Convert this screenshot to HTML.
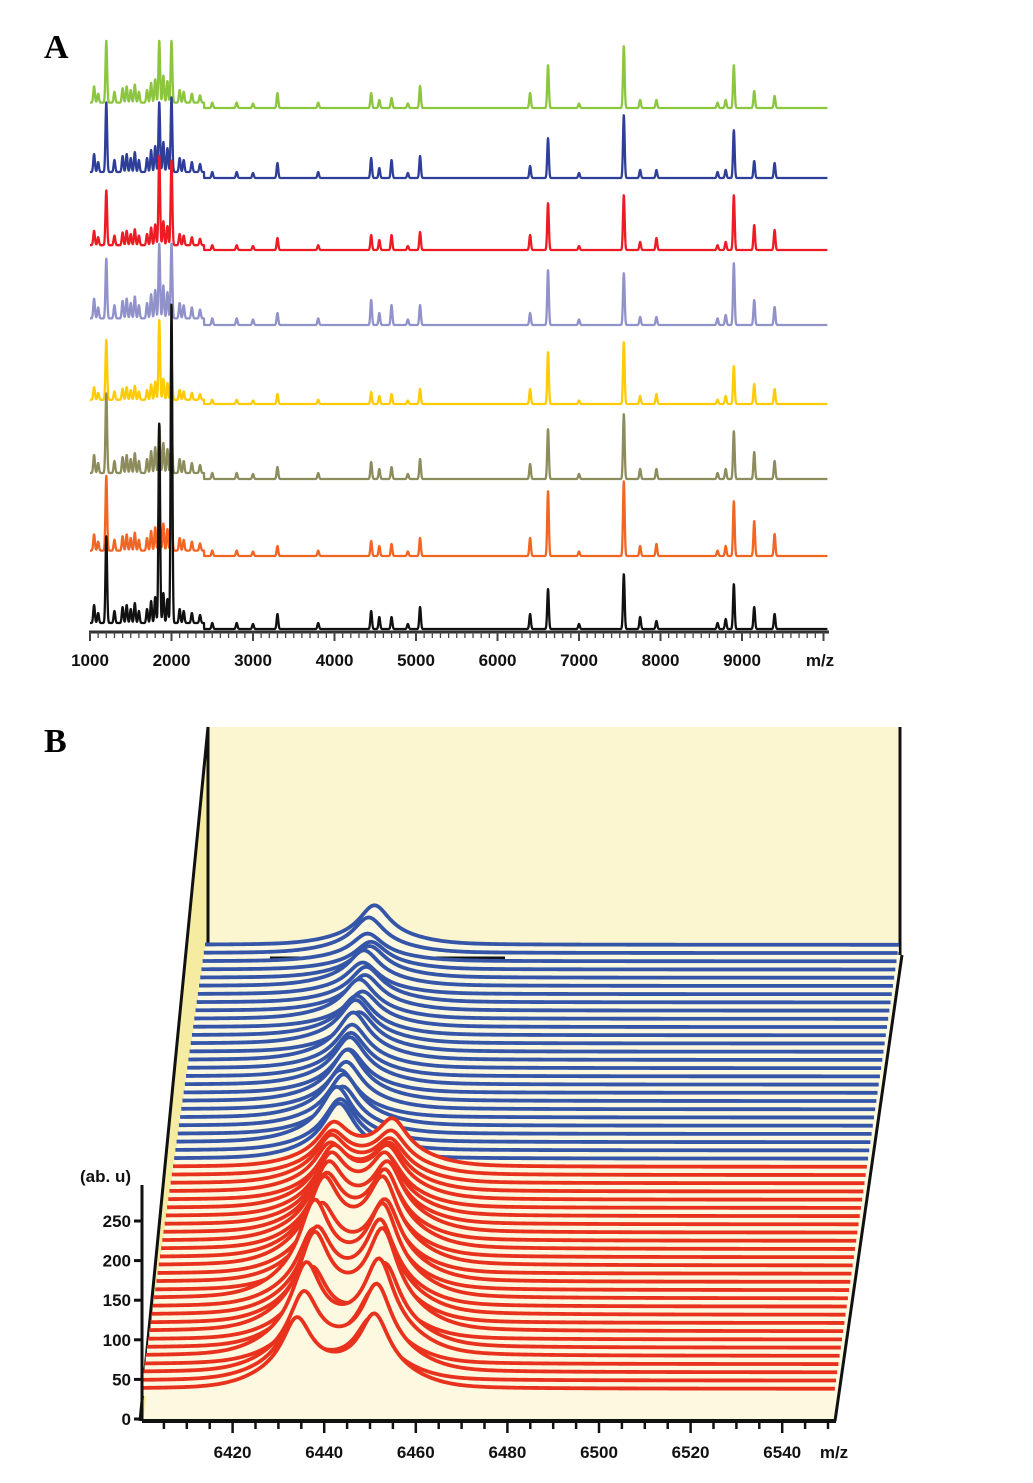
<!DOCTYPE html>
<html><head><meta charset="utf-8"><style>
body{margin:0;background:#fff;}
svg{display:block;font-family:"Liberation Sans",sans-serif;}
.lbl{font-weight:bold;font-size:17px;fill:#111;}
</style></head><body>
<svg id="fig" width="1033" height="1483" viewBox="0 0 1033 1483" xmlns="http://www.w3.org/2000/svg">
<rect width="1033" height="1483" fill="#fff"/>
<text x="44" y="58" font-family="Liberation Serif,serif" font-weight="bold" font-size="34">A</text>
<text x="44" y="752" font-family="Liberation Serif,serif" font-weight="bold" font-size="34">B</text>
<g id="panelA"></g>
<g id="axisA"></g>
<g id="panelB">
  <polygon points="208,727 900,727 900,955 208,955" fill="#fbf6cf"/>
  <polygon points="208,727 208,955 146,1421 139,1421" fill="#f5eca2"/>
  <polygon points="208,955 902,955 835,1421 143,1421" fill="#fdf9e0"/>
  <line x1="208" y1="727" x2="208" y2="955" stroke="#111" stroke-width="3"/>
  <line x1="900" y1="727" x2="900" y2="955" stroke="#111" stroke-width="3"/>
  <line x1="208" y1="727" x2="140" y2="1421" stroke="#111" stroke-width="3"/>
  <g id="rowsB"></g>
  <line x1="902" y1="955" x2="835" y2="1421" stroke="#111" stroke-width="3"/>
  <g id="axisB"></g>
</g>
</svg>
<script>
// ---------- Panel A data ----------
const seriesNames = ['green','blue','red','lavender','yellow','olive','orange','black'];
const seriesColors = ['#8cc63f','#2f3f99','#ed1c24','#9092c9','#ffcb05','#8d8c5c','#f26522','#111111'];
const majorMz = [1200,1850,2000,3300,4450,4550,4700,5050,6400,6620,7550,7750,7950,8800,8900,9150,9400];
const hGreen   = [62,62,62,15,15,8,10,22,15,43,62,8,8,8,43,17,12];
const hBlue    = [70,70,75,15,20,10,18,22,12,40,63,8,8,8,48,17,15];
const hRed     = [55,90,85,12,15,10,15,18,15,47,55,8,12,8,55,25,20];
const hLavender= [60,75,75,12,25,12,20,20,12,55,52,8,8,10,62,25,18];
const hYellow  = [60,80,40,10,12,8,10,15,15,52,62,8,10,8,38,20,15];
const hOlive   = [80,50,50,12,17,10,12,20,15,50,65,10,10,10,48,27,18];
const hOrange  = [75,60,50,10,15,10,12,18,18,65,75,10,12,10,55,35,22];
const hBlack   = [87,200,320,15,18,12,12,22,15,40,55,12,8,10,45,22,15];
const minorMz = [1050,1100,1300,1400,1450,1500,1550,1600,1700,1750,1800,1900,1950,2100,2150,2250,2350,2500,2800,3000,3800,4900,7000,8700];
const minorH  = [18,10,12,16,18,14,20,12,14,22,26,30,24,14,12,10,8,6,6,5,6,5,5,6];
const baselines = [110,180,252,327,406,481,558,631];
const heights = [hGreen,hBlue,hRed,hLavender,hYellow,hOlive,hOrange,hBlack];
const minorScale = [0.9,1.0,0.8,1.1,0.7,1.0,0.9,1.0];
const xTicksA = [1000,2000,3000,4000,5000,6000,7000,8000,9000];

function xA(mz){return 90 + (mz-1000)*652/8000;}
const NS='http://www.w3.org/2000/svg';
function mk(tag,attrs,parent){const e=document.createElementNS(NS,tag);for(const k in attrs)e.setAttribute(k,attrs[k]);parent.appendChild(e);return e;}

const pA=document.getElementById('panelA');
for(let s=0;s<8;s++){
  let d='';
  const b=baselines[s];
  for(let mz=1000;mz<=10050;mz+=3){
    let y=0;
    for(let k=0;k<majorMz.length;k++){const t=(mz-majorMz[k])/14;y+=heights[s][k]*Math.exp(-t*t);}
    for(let k=0;k<minorMz.length;k++){const t=(mz-minorMz[k])/14;y+=minorH[k]*minorScale[s]*Math.exp(-t*t);}
    if(mz<2400){y+=6*minorScale[s];}
    y+=2;
    d+=(d?'L':'M')+xA(mz).toFixed(2)+','+(b-y).toFixed(2);
  }
  const p=mk('path',{d:d,fill:'none',stroke:seriesColors[s],'stroke-width':2.3,'stroke-linejoin':'round'},pA);
  
  
}
const axA=document.getElementById('axisA');
mk('line',{x1:89,y1:632,x2:829,y2:632,stroke:'#333','stroke-width':3},axA);
for(let mz=1000;mz<=10000;mz+=100){
  const big=(mz%1000===0);
  mk('line',{x1:xA(mz),y1:632,x2:xA(mz),y2:big?641:638,stroke:'#444','stroke-width':big?2:1.3},axA);
}
xTicksA.forEach(v=>{
  const t=mk('text',{x:xA(v),y:666,'text-anchor':'middle',class:'lbl'},axA);t.textContent=v;
  
  
});
{const t=mk('text',{x:820,y:666,'text-anchor':'middle',class:'lbl'},axA);t.textContent='m/z';

}

// ---------- Panel B data ----------
const redP1Pos = [6434,6433,6435,6434,6435,6436,6435,6436,6435,6436,6435,6435,6436,6436,6435,6436,6435,6436,6435,6436,6435,6436,6435,6436,6435,6435,6435,6435];
const redP1H   = [85,70,95,60,110,95,75,115,85,100,90,115,80,90,75,100,80,85,75,80,65,70,60,60,55,55,50,50];
const redP2Pos = [6451,6450,6451,6450,6451,6452,6451,6451,6451,6450,6450,6450,6450,6450,6450,6449,6449,6449,6449,6449,6449,6448,6448,6448,6448,6448,6448,6448];
const redP2H   = [90,75,105,90,115,100,80,120,90,110,95,110,85,95,75,100,80,90,75,80,65,70,60,60,55,50,50,55];
const blueP1Pos= [6436,6436,6435,6436,6436,6435,6436,6436,6436,6436,6436,6436,6436,6437,6436,6436,6437,6436,6437,6437,6436,6436,6437,6437,6436,6436,6437];
const blueP1H  = [70,65,70,60,65,60,60,65,55,60,55,55,60,50,55,50,45,50,45,45,40,45,40,35,35,45,50];
const yTicksB = [0,50,100,150,200,250];
const xTicksB = [6420,6440,6460,6480,6500,6520,6540];

const nRed=redP1H.length, nBlue=blueP1H.length, nRows=nRed+nBlue;
const dyRow=444/(nRows-1), dxRow=64/(nRows-1);
function xB(mz,row){return 141 + (mz-6400)*4.58 + row*dxRow;}
function yB(v,row){return 1392 - row*dyRow - v*0.792;}
const rowsB=document.getElementById('rowsB');
for(let r=nRows-1;r>=0;r--){
  const isRed=r<nRed;
  let d='';
  const mzStart = 6400, mzEnd=6551.5;
  for(let mz=mzStart;mz<=mzEnd;mz+=0.5){
    let v=4;
    if(isRed){
      const a=(mz-redP1Pos[r])/3.8, b=(mz-redP2Pos[r])/3.8;
      v+=redP1H[r]/(1+a*a)*0.75+redP1H[r]*0.25*Math.exp(-a*a/9);
      v+=redP2H[r]/(1+b*b)*0.75+redP2H[r]*0.25*Math.exp(-b*b/9);
    }else{
      const i=r-nRed, a=(mz-blueP1Pos[i])/4.0;
      v+=blueP1H[i]/(1+a*a)*0.8+blueP1H[i]*0.2*Math.exp(-a*a/9);
    }
    d+=(d?'L':'M')+xB(mz,r).toFixed(2)+','+yB(v,r).toFixed(2);
  }
  const fillD=d+'L'+xB(mzEnd,r).toFixed(2)+','+(yB(0,r)+4).toFixed(2)+'L'+xB(mzStart,r).toFixed(2)+','+(yB(0,r)+4).toFixed(2)+'Z';
  mk('path',{d:fillD,fill:'#fdf9e0',stroke:'none'},rowsB);
  const p=mk('path',{d:d,fill:'none',stroke:isRed?'#e8321e':'#3556a8','stroke-width':3.8,'stroke-linejoin':'round'},rowsB);
  
  
  if(r===nRows-2){mk('line',{x1:270,y1:958,x2:505,y2:958,stroke:'#111','stroke-width':3},rowsB);}
}
const axB=document.getElementById('axisB');
mk('line',{x1:142,y1:1421,x2:836,y2:1421,stroke:'#111','stroke-width':4},axB);
mk('line',{x1:142,y1:1421,x2:142,y2:1185,stroke:'#111','stroke-width':3},axB);
yTicksB.forEach(v=>{
  const y=1419-v*0.792;
  mk('line',{x1:134,y1:y,x2:142,y2:y,stroke:'#111','stroke-width':3},axB);
  const t=mk('text',{x:131,y:y+6,'text-anchor':'end',class:'lbl'},axB);t.textContent=v;
  
  
});
{const t=mk('text',{x:131,y:1182,'text-anchor':'end',class:'lbl'},axB);t.textContent='(ab. u)';

}
for(let mz=6405;mz<=6555;mz+=5){
  const big=(mz%20===0), x=xB(mz,0);
  if(x>836)break;
  mk('line',{x1:x,y1:1421,x2:x,y2:big?1433:1429,stroke:'#111','stroke-width':2.5},axB);
}
xTicksB.forEach(v=>{
  const t=mk('text',{x:xB(v,0),y:1458,'text-anchor':'middle',class:'lbl'},axB);t.textContent=v;
  
  
});
{const t=mk('text',{x:834,y:1458,'text-anchor':'middle',class:'lbl'},axB);t.textContent='m/z';

}
</script>
</body></html>
